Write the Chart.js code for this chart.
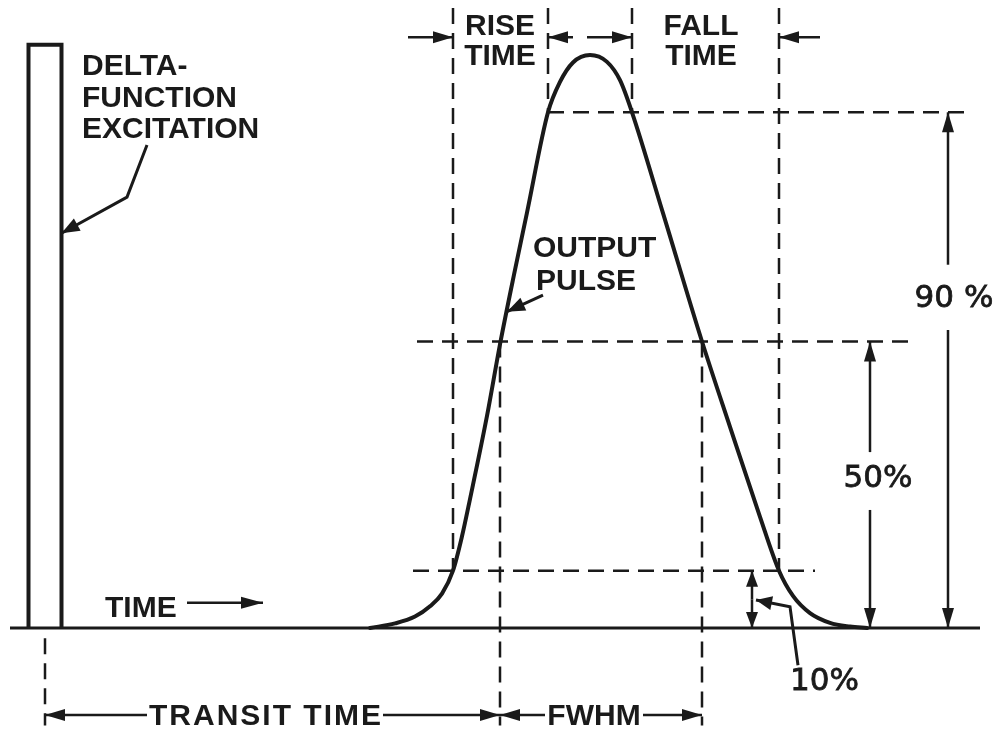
<!DOCTYPE html>
<html>
<head>
<meta charset="utf-8">
<script src="https://cdn.jsdelivr.net/npm/chart.js@4/dist/chart.umd.min.js"></script>
<style>
  html, body { margin: 0; padding: 0; background: #ffffff; }
  #wrap { width: 995px; height: 730px; position: relative; }
</style>
</head>
<body>
<div id="wrap"><canvas id="c"></canvas></div>
<script>
// Output pulse of the detector: time (arbitrary units) vs amplitude (% of peak)
const pulseTime = [37.0, 39.5, 41.5, 43.0, 44.2, 45.3, 46.2, 47.0, 48.7, 50.0, 51.5, 52.7, 54.8, 56.0, 57.3, 59.0, 60.7, 62.0, 63.2, 66.3, 70.2, 73.0, 76.0, 77.9, 79.3, 81.0, 83.0, 85.0, 86.7];
const pulseAmp  = [0, 0.8, 2.0, 3.8, 6.0, 10, 16.0, 22.5, 37.0, 49.5, 62.5, 72.5, 90, 95.3, 98.7, 100, 98.8, 95.6, 90, 72.4, 50, 35.1, 19.4, 10, 5.6, 2.6, 0.9, 0.25, 0];

// Delta-function excitation
const deltaTime = 4.5;
const deltaWidth = 3.3;
const deltaHeight = 101.8;

// Threshold levels (% of peak) and the times where the pulse crosses them
const levels    = [10, 50, 90];
const riseCross = [45.3, 50.0, 54.8];
const fallCross = [77.9, 70.2, 63.2];

// Time axis extent
const timeStart = 1.0;
const timeEnd = 98.0;

// Label texts
const excitationLabel = ['DELTA-', 'FUNCTION', 'EXCITATION'];
const pulseLabel = ['OUTPUT', 'PULSE'];
const riseLabel = ['RISE', 'TIME'];
const fallLabel = ['FALL', 'TIME'];
const levelLabels = ['10%', '50%', '90 %'];
const timeLabel = 'TIME';
const transitLabel = 'TRANSIT TIME';
const fwhmLabel = 'FWHM';

const INK = '#1a1a1a';
const DASH = [16, 9];

function seg(x0, y0, x1, y1, dashed, width) {
  return {
    data: [{ x: x0, y: y0 }, { x: x1, y: y1 }],
    showLine: true,
    borderColor: INK,
    borderWidth: width || 2.5,
    borderDash: dashed ? DASH : [],
    pointRadius: 0,
    fill: false
  };
}

const datasets = [];

// baseline
datasets.push(seg(timeStart, 0, timeEnd, 0, false, 3));

// delta-function rectangle
datasets.push({
  data: [
    { x: deltaTime - deltaWidth / 2, y: 0 },
    { x: deltaTime - deltaWidth / 2, y: deltaHeight },
    { x: deltaTime + deltaWidth / 2, y: deltaHeight },
    { x: deltaTime + deltaWidth / 2, y: 0 }
  ],
  showLine: true, borderColor: INK, borderWidth: 4, pointRadius: 0,
  borderJoinStyle: 'miter', fill: false
});

// output pulse
datasets.push({
  data: pulseTime.map((t, i) => ({ x: t, y: pulseAmp[i] })),
  showLine: true, borderColor: INK, borderWidth: 4, pointRadius: 0,
  cubicInterpolationMode: 'monotone', borderCapStyle: 'round', borderJoinStyle: 'round',
  fill: false
});

// horizontal construction lines at 10 %, 50 %, 90 %
datasets.push(seg(41.3, levels[0], 81.5, levels[0], true));
datasets.push(seg(41.7, levels[1], 91.0, levels[1], true));
datasets.push(seg(riseCross[2], levels[2], 97.0, levels[2], true));

// vertical construction lines
const topY = 108.2, bottomY = -17.0;
datasets.push(seg(riseCross[0], topY, riseCross[0], levels[0], true));
datasets.push(seg(riseCross[2], topY, riseCross[2], levels[2], true));
datasets.push(seg(fallCross[2], topY, fallCross[2], levels[2], true));
datasets.push(seg(fallCross[0], topY, fallCross[0], levels[0], true));
datasets.push(seg(riseCross[1], levels[1], riseCross[1], bottomY, true));
datasets.push(seg(fallCross[1], levels[1], fallCross[1], bottomY, true));
datasets.push(seg(deltaTime, -1.8, deltaTime, bottomY, true));

// arrow heads, dimension lines and lettering
function head(ctx, x, y, dx, dy, L, W) {
  L = L || 20; W = W || 6;
  const n = Math.hypot(dx, dy); dx /= n; dy /= n;
  ctx.beginPath();
  ctx.moveTo(x, y);
  ctx.lineTo(x - dx * L - dy * W, y - dy * L + dx * W);
  ctx.lineTo(x - dx * L + dy * W, y - dy * L - dx * W);
  ctx.closePath();
  ctx.fill();
}
function polyArrow(ctx, pts, L, W) {
  ctx.beginPath();
  ctx.moveTo(pts[0][0], pts[0][1]);
  for (let i = 1; i < pts.length; i++) ctx.lineTo(pts[i][0], pts[i][1]);
  ctx.stroke();
  const a = pts[pts.length - 2], b = pts[pts.length - 1];
  head(ctx, b[0], b[1], b[0] - a[0], b[1] - a[1], L, W);
}

const annotate = {
  id: 'annotate',
  afterDatasetsDraw(chart) {
    const ctx = chart.ctx;
    const X = v => chart.scales.x.getPixelForValue(v);
    const Y = v => chart.scales.y.getPixelForValue(v);
    ctx.save();
    ctx.strokeStyle = INK; ctx.fillStyle = INK;
    ctx.lineWidth = 2.5; ctx.lineCap = 'butt';

    // rise / fall time dimension arrows
    const rowY = Y(103.1);
    polyArrow(ctx, [[X(40.8), rowY], [X(riseCross[0]), rowY]]);
    polyArrow(ctx, [[X(57.3), rowY], [X(riseCross[2]), rowY]]);
    polyArrow(ctx, [[X(58.7), rowY], [X(fallCross[2]), rowY]]);
    polyArrow(ctx, [[X(82.0), rowY], [X(fallCross[0]), rowY]]);

    // 90 % dimension
    polyArrow(ctx, [[X(94.8), Y(63.4)], [X(94.8), Y(levels[2])]]);
    polyArrow(ctx, [[X(94.8), Y(52.0)], [X(94.8), Y(0)]]);
    // 50 % dimension
    polyArrow(ctx, [[X(87.0), Y(30.7)], [X(87.0), Y(levels[1])]]);
    polyArrow(ctx, [[X(87.0), Y(20.6)], [X(87.0), Y(0)]]);
    // 10 % dimension
    polyArrow(ctx, [[X(75.2), Y(5)], [X(75.2), Y(levels[0])]], 16, 6);
    polyArrow(ctx, [[X(75.2), Y(5)], [X(75.2), Y(0)]], 16, 6);

    // transit time and FWHM
    const botY = Y(-15.2);
    polyArrow(ctx, [[X(14.7), botY], [X(deltaTime), botY]]);
    polyArrow(ctx, [[X(38.3), botY], [X(riseCross[1]), botY]]);
    polyArrow(ctx, [[X(54.5), botY], [X(riseCross[1]), botY]]);
    polyArrow(ctx, [[X(64.3), botY], [X(fallCross[1]), botY]]);

    // time direction arrow
    polyArrow(ctx, [[X(18.7), Y(4.4)], [X(26.3), Y(4.4)]], 22, 6);

    // leaders
    ctx.lineWidth = 3;
    polyArrow(ctx, [[X(14.7), Y(84.3)], [X(12.7), Y(75.2)], [X(deltaTime + deltaWidth / 2), Y(68.9)]], 18, 7);
    polyArrow(ctx, [[X(54.3), Y(58.1)], [X(50.7), Y(55.2)]], 18, 7);
    polyArrow(ctx, [[X(79.8), Y(-6.5)], [X(79.0), Y(3.7)], [X(75.6), Y(4.9)]], 16, 7);

    // lettering
    ctx.textBaseline = 'alphabetic';
    ctx.font = 'bold 30px "Liberation Sans", Arial, sans-serif';
    ctx.textAlign = 'left';
    const exY = [96.5, 90.9, 85.5];
    excitationLabel.forEach((s, i) => ctx.fillText(s, X(8.2), Y(exY[i])));
    ctx.fillText(pulseLabel[0], X(53.3), Y(64.7));
    ctx.fillText(pulseLabel[1], X(53.6), Y(59.0));
    ctx.fillText(timeLabel, X(10.5), Y(1.9));

    ctx.textAlign = 'center';
    ctx.fillText(riseLabel[0], X(50.0), Y(103.5));
    ctx.fillText(riseLabel[1], X(50.0), Y(98.3));
    ctx.fillText(fallLabel[0], X(70.1), Y(103.5));
    ctx.fillText(fallLabel[1], X(70.1), Y(98.3));
    ctx.fillText(fwhmLabel, X(59.4), Y(-16.9));
    ctx.letterSpacing = '2px';
    ctx.fillText(transitLabel, X(26.6), Y(-16.9));
    ctx.letterSpacing = '0px';

    ctx.font = '31px "DejaVu Sans", sans-serif';
    ctx.lineWidth = 0.8;
    ctx.fillText(levelLabels[2], X(95.4), Y(56.0));
    ctx.strokeText(levelLabels[2], X(95.4), Y(56.0));
    ctx.fillText(levelLabels[1], X(87.8), Y(24.6));
    ctx.strokeText(levelLabels[1], X(87.8), Y(24.6));
    ctx.textAlign = 'left';
    ctx.fillText(levelLabels[0], X(79.0), Y(-10.8));
    ctx.strokeText(levelLabels[0], X(79.0), Y(-10.8));
    ctx.restore();
  }
};

new Chart(document.getElementById('c'), {
  type: 'scatter',
  data: { datasets },
  options: {
    responsive: true,
    maintainAspectRatio: false,
    animation: false,
    layout: { padding: 0 },
    plugins: { legend: { display: false }, tooltip: { enabled: false } },
    scales: {
      x: { type: 'linear', min: 0, max: 99.5, display: false },
      y: { type: 'linear', min: -17.8, max: 109.6, display: false }
    }
  },
  plugins: [annotate]
});
</script>
</body>
</html>
